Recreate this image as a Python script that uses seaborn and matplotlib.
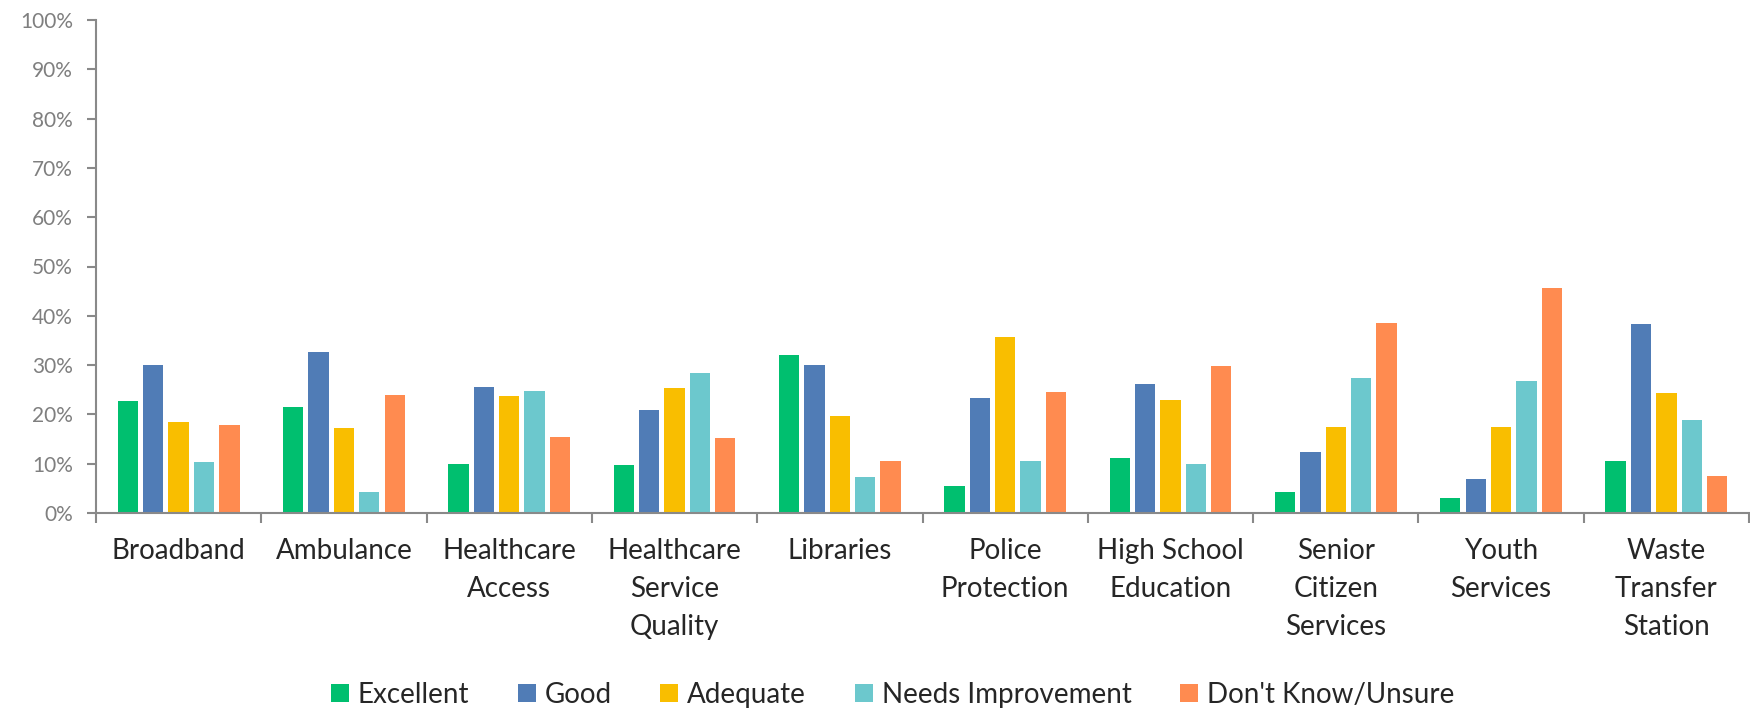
import pandas as pd
import numpy as np
import matplotlib
matplotlib.use('Agg')
import matplotlib.pyplot as plt
import seaborn as sns
from matplotlib.ticker import PercentFormatter, FixedLocator

# 数据
services = ["Broadband", "Ambulance", "Healthcare\nAccess", "Healthcare\nService\nQuality",
            "Libraries", "Police\nProtection", "High School\nEducation",
            "Senior\nCitizen\nServices", "Youth\nServices", "Waste\nTransfer\nStation"]
ratings = ["Excellent", "Good", "Adequate", "Needs Improvement", "Don't Know/Unsure"]

excellent = [22.8, 21.6, 9.9, 9.8, 32.1, 5.5, 11.1, 4.2, 3.1, 10.6]
good = [30.1, 32.7, 25.6, 20.9, 30.1, 23.3, 26.1, 12.4, 6.8, 38.3]
adequate = [18.5, 17.2, 23.7, 25.3, 19.6, 35.8, 22.9, 17.4, 17.4, 24.4]
needs_improvement = [10.4, 4.2, 24.8, 28.3, 7.4, 10.5, 9.9, 27.3, 26.8, 18.8]
unsure = [17.9, 24.0, 15.5, 15.3, 10.5, 24.6, 29.8, 38.5, 45.6, 7.5]

colors = ["#00BF6F", "#507CB6", "#F9BE00", "#6CC8CD", "#FF8B50"]

df = pd.DataFrame({
    "service": services * 5,
    "rating": np.repeat(ratings, len(services)),
    "pct": np.array(excellent + good + adequate + needs_improvement + unsure) / 100,
})

sns.set_theme(style="white")
plt.rcParams['font.family'] = ['Lato', 'DejaVu Sans']

fig = plt.figure(figsize=(17.5, 7.12), dpi=100)
ax = fig.add_axes([96 / 1750, 1 - 513 / 712, 1653 / 1750, (513 - 20) / 712])

sns.barplot(data=df, x="service", y="pct", hue="rating", order=services, hue_order=ratings,
            palette=colors, width=0.768, gap=0.2, linewidth=0, saturation=1, ax=ax)

ax.set_xlim(-0.5, len(services) - 0.5)
ax.set_ylim(0, 1)
ax.set_yticks(np.arange(0, 1.01, 0.1))
ax.yaxis.set_major_formatter(PercentFormatter(1.0, decimals=0))
ax.set_xlabel("")
ax.set_ylabel("")

# 坐标轴样式
for s in ["top", "right"]:
    ax.spines[s].set_visible(False)
for s in ["left", "bottom"]:
    ax.spines[s].set_color("#898989")
    ax.spines[s].set_linewidth(1.5)

ax.tick_params(axis="y", which="major", left=True, length=6.5, width=1.5, color="#898989",
               labelsize=15, labelcolor="#7f7f7f", pad=10)
ax.tick_params(axis="x", which="major", bottom=False, length=0, labelsize=20,
               labelcolor="#262626", pad=18)
ax.xaxis.set_minor_locator(FixedLocator(np.arange(-0.5, len(services), 1.0)))
ax.tick_params(axis="x", which="minor", bottom=True, length=7, width=1.5, color="#898989")
for lbl in ax.get_xticklabels():
    lbl.set_linespacing(1.58)
    lbl.set_verticalalignment("top")

# 图例
handles, labels = ax.get_legend_handles_labels()
ax.get_legend().remove()
fig.legend(handles, labels, loc="center", bbox_to_anchor=(0.51, 0.024), ncol=5, frameon=False,
           fontsize=20, handlelength=0.65, handleheight=0.65, handletextpad=0.32,
           columnspacing=1.75, labelcolor="#262626")

fig.savefig("out.png", dpi=100, facecolor="white")
